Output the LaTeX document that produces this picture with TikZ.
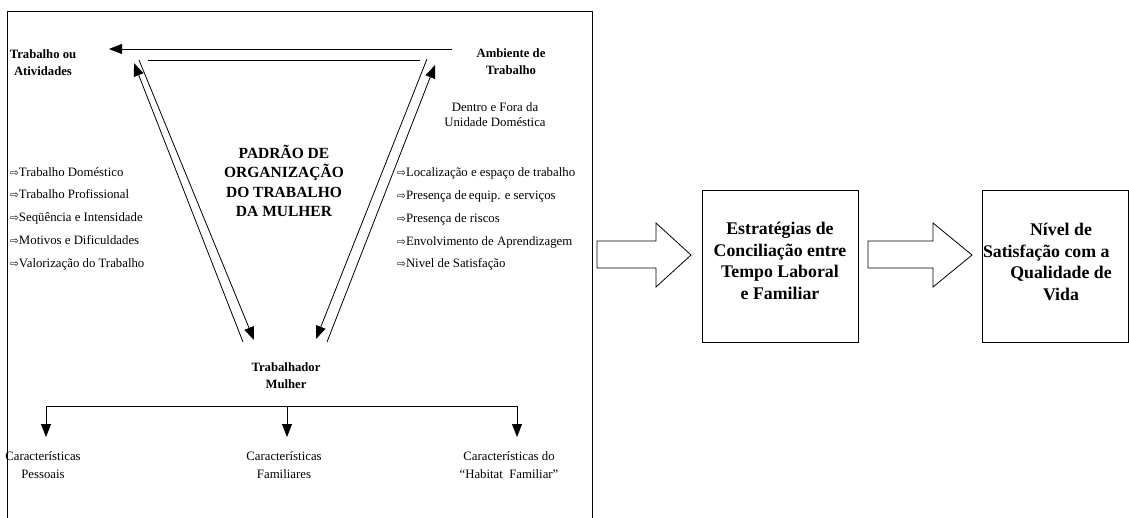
\documentclass[tikz,border=0pt]{standalone}
\usepackage{fontspec}
\setmainfont{Liberation Serif}
\newfontfamily\symfont{DejaVu Sans}
\usetikzlibrary{arrows.meta}
\newcommand\warrow{{\symfont\fontsize{10.5}{10.5}\selectfont ⇨}}
\begin{document}
\begin{tikzpicture}[x=1pt,y=-1pt,
  ln/.style={line width=0.8pt},
  tiparrow/.style={-{Triangle[length=13pt,width=10pt]}},
  lbl/.style={inner sep=0pt, align=center, font=\fontsize{12.8}{17}\selectfont},
  hd/.style={inner sep=0pt, align=center, font=\bfseries\fontsize{12.7}{17}\selectfont},
  item/.style={inner sep=0pt, anchor=base west, font=\fontsize{12.8}{15}\selectfont},
  padr/.style={inner sep=0pt, align=center, font=\bfseries\fontsize{15.5}{19.3}\selectfont},
  big/.style={inner sep=0pt, align=center, font=\bfseries\fontsize{17.8}{21.7}\selectfont},
  boxnode/.style={draw, line width=0.8pt, inner sep=0pt},
  hollow/.style={draw, line width=0.8pt, fill=white, line join=miter}
]
\useasboundingbox (0,0) rectangle (1129,517);
\clip (0,0) rectangle (1129,517);
\fill[white] (0,0) rectangle (1129,517);

% main frame
\draw[ln] (7,11) rectangle (592,540);

% triangle connectors
\coordinate (t1s) at (452,49); \coordinate (t1e) at (109,49);
\coordinate (t2s) at (420,60); \coordinate (t2e) at (148,60);
\coordinate (la) at (243,342); \coordinate (lat) at (134,63);
\coordinate (lb) at (139,60);  \coordinate (lbt) at (254,340);
\coordinate (rc) at (427,59);  \coordinate (rct) at (316,339);
\coordinate (rd) at (327,342); \coordinate (rdt) at (435,65);
\draw[ln,tiparrow] (t1s) -- (t1e);
\draw[ln] (t2s) -- (t2e);
\draw[ln,tiparrow] (la) -- (lat);
\draw[ln,tiparrow] (lb) -- (lbt);
\draw[ln,tiparrow] (rc) -- (rct);
\draw[ln,tiparrow] (rd) -- (rdt);

% headings
\node[hd] (trab) at (43,63) {Trabalho ou\\Atividades};
\node[hd] (amb) at (511,62) {Ambiente de\\Trabalho};
\node[lbl, font=\fontsize{12.8}{15}\selectfont] (dentro) at (495,115) {Dentro e Fora da\\Unidade Doméstica};
\node[padr] (padrao) at (284,181) {PADRÃO DE\\ORGANIZAÇÃO\\DO TRABALHO\\DA MULHER};
\node[hd] (mulher) at (286,376) {Trabalhador\\Mulher};

% left list
\node[item] (l1) at (10,176) {\warrow Trabalho Doméstico};
\node[item] (l2) at (10,198) {\warrow Trabalho Profissional};
\node[item] (l3) at (10,221) {\warrow Seqüência e Intensidade};
\node[item] (l4) at (10,244) {\warrow Motivos e Dificuldades};
\node[item] (l5) at (10,267) {\warrow Valorização do Trabalho};

% right list
\node[item] (r1) at (397,176) {\warrow Localização e espaço de trabalho};
\node[item] (r2) at (397,199) {\warrow Presença de\,equip. e serviços};
\node[item] (r3) at (397,222) {\warrow Presença de riscos};
\node[item] (r4) at (397,245) {\warrow Envolvimento de Aprendizagem};
\node[item] (r5) at (397,267) {\warrow Nivel de Satisfação};

% tree
\coordinate (tl) at (46,406); \coordinate (tm) at (287,406); \coordinate (tr) at (517,406);
\coordinate (pl) at (46,437); \coordinate (pm) at (287,437); \coordinate (pr) at (517,437);
\draw[ln] (tl) -- (tr);
\draw[ln,tiparrow] (tl) -- (pl);
\draw[ln,tiparrow] (tm) -- (pm);
\draw[ln,tiparrow] (tr) -- (pr);
\node[lbl, font=\fontsize{12.8}{18}\selectfont] (cp) at (43,465) {Características\\Pessoais};
\node[lbl, font=\fontsize{12.8}{18}\selectfont] (cf) at (284,465) {Características\\Familiares};
\node[lbl, font=\fontsize{12.8}{18}\selectfont] (ch) at (509,465) {Características do\\“Habitat~~Familiar”};

% block arrows
\draw[hollow] (597,241) -- (656,241) -- (656,223) -- (691,255) -- (656,287) -- (656,268) -- (597,268) -- cycle;
\draw[hollow] (868,241) -- (933,241) -- (933,223) -- (972,255) -- (933,287) -- (933,268) -- (868,268) -- cycle;

% boxes
\node[boxnode, minimum width=156pt, minimum height=152pt] (b1) at (780,266) {};
\node[big] (estr) at (780,261) {Estratégias de\\Conciliação entre\\Tempo Laboral\\e Familiar};
\node[boxnode, minimum width=146pt, minimum height=152pt] (b2) at (1055,266) {};
\node[big] (nivel) at (1061,262) {Nível de\\\makebox[156pt][l]{Satisfação com a}\\Qualidade de\\Vida};
\end{tikzpicture}
\end{document}
